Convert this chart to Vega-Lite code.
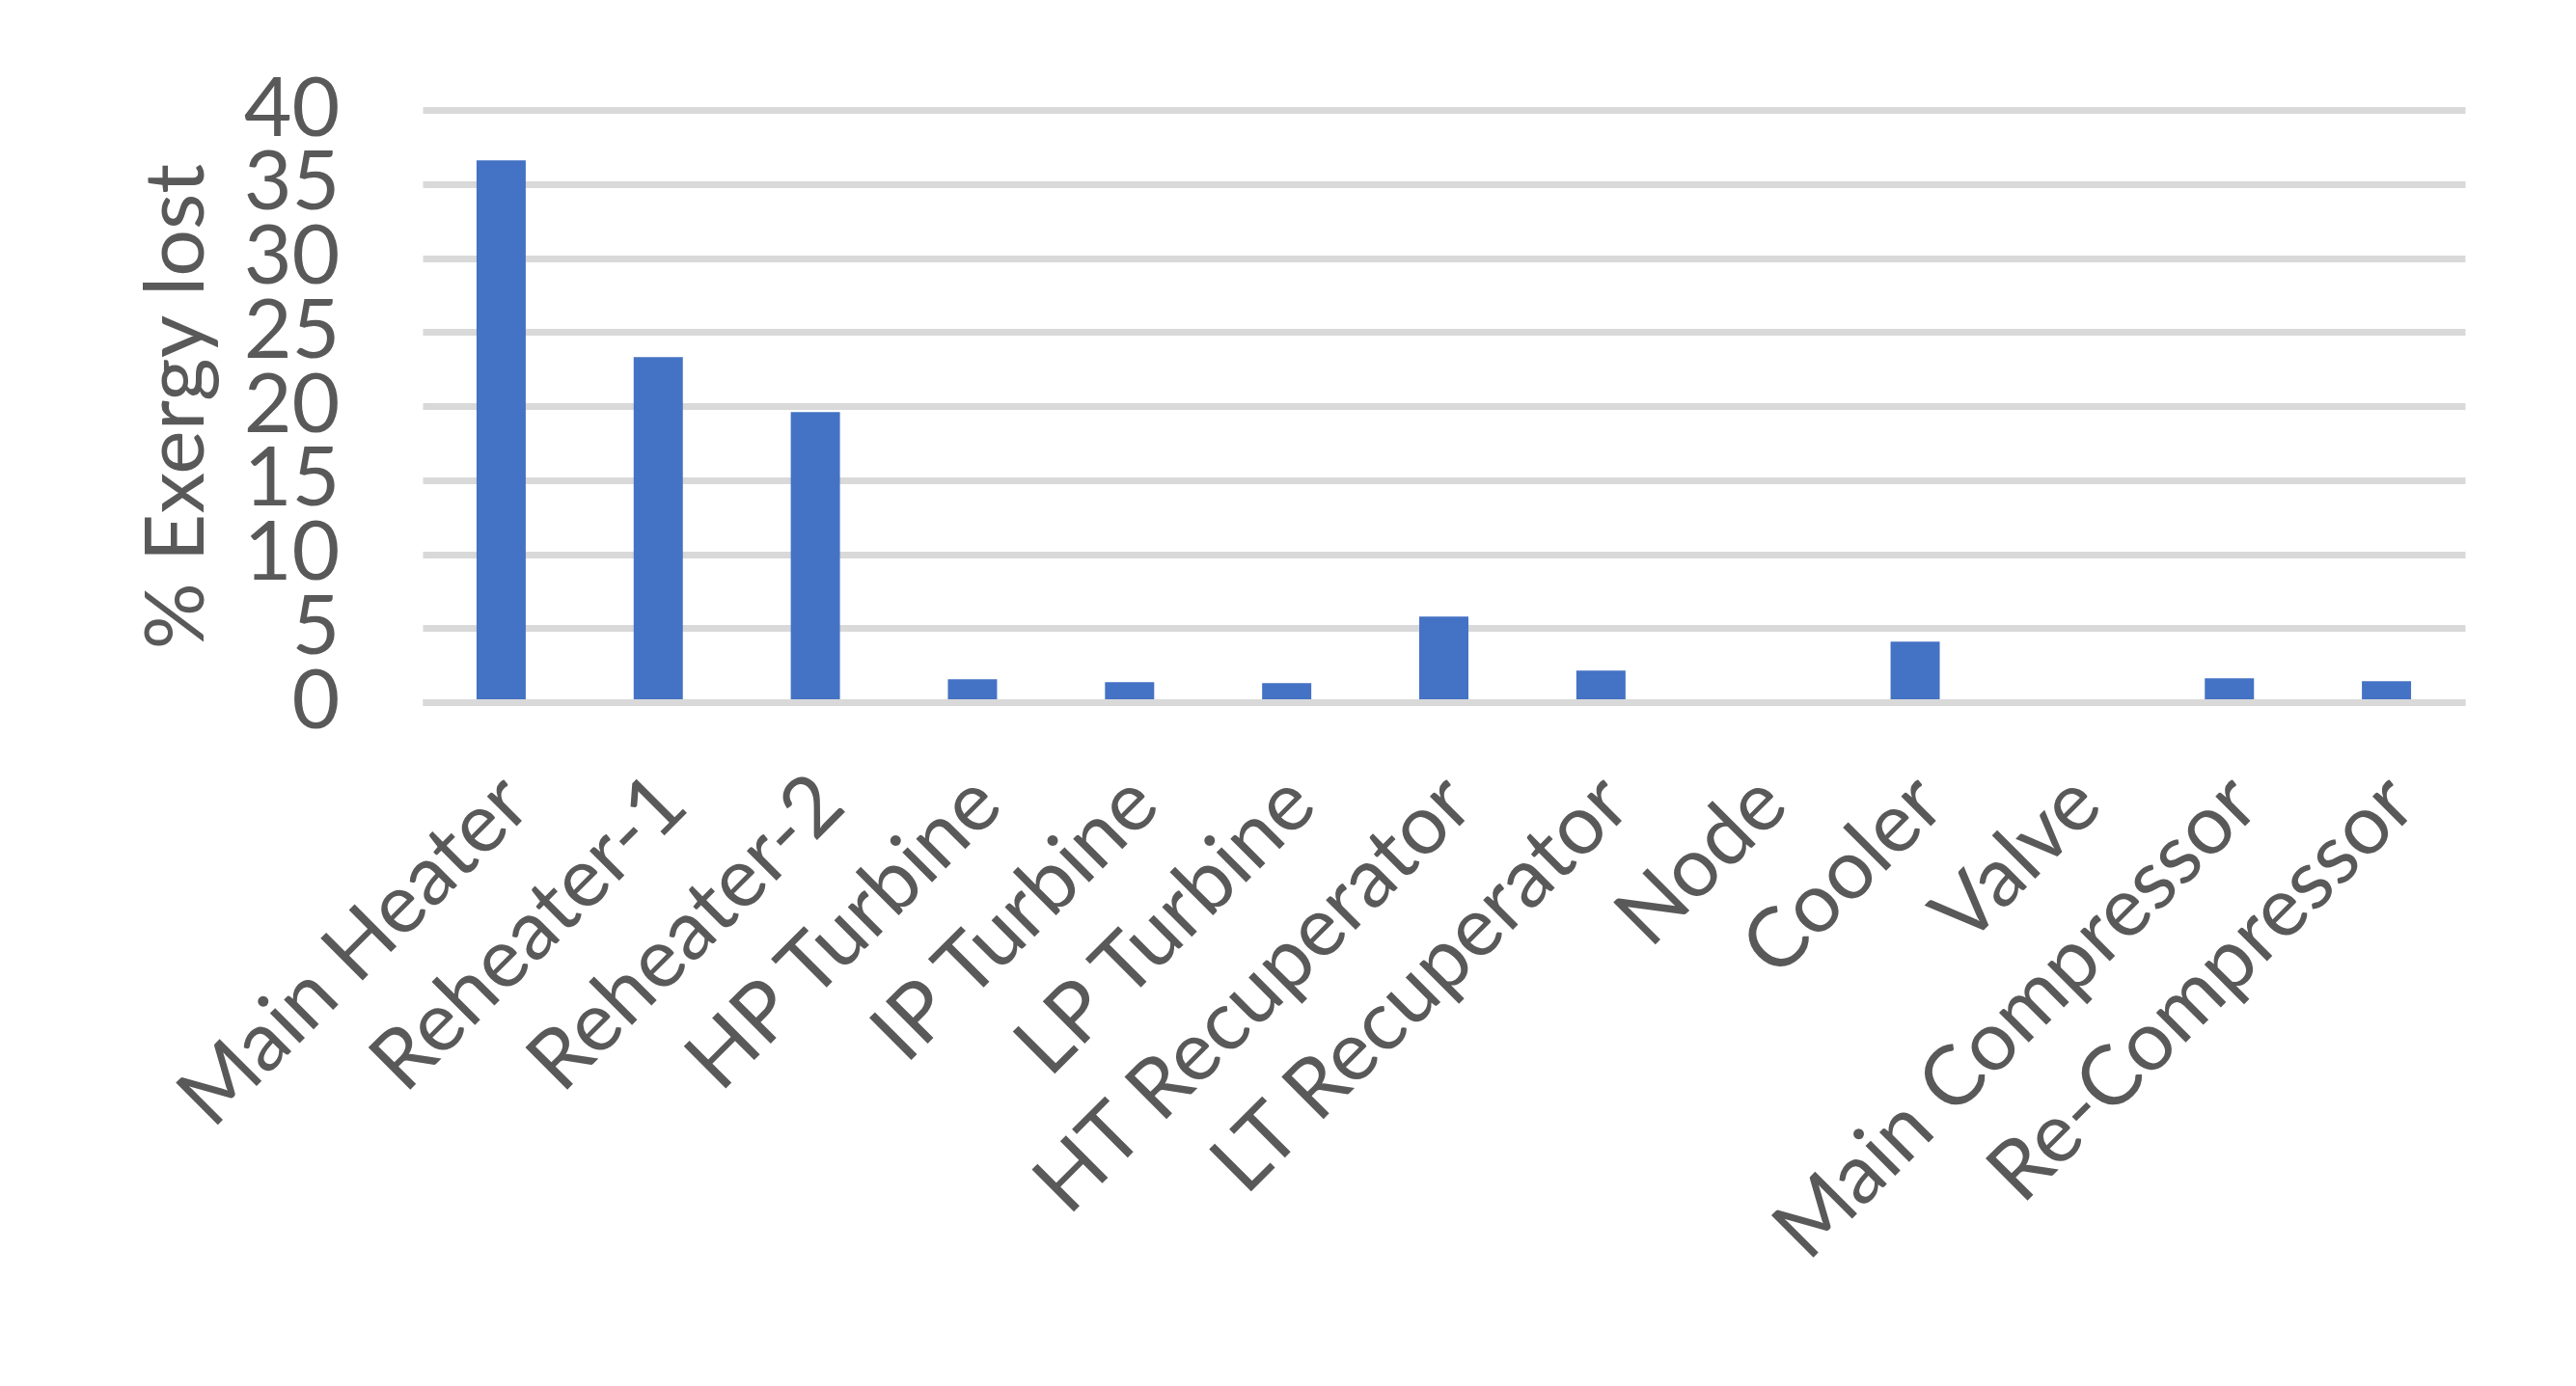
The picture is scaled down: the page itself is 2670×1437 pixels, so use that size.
{
  "$schema": "https://vega.github.io/schema/vega-lite/v6.json",
  "width": 2117,
  "height": 614,
  "autosize": "none",
  "padding": {"left": 438, "top": 114, "right": 115, "bottom": 709},
  "background": "white",
  "config": {
    "view": {"stroke": null},
    "font": "Lato"
  },
  "data": {
    "values": [
      {"component": "Main Heater", "loss": 36.6},
      {"component": "Reheater-1", "loss": 23.3},
      {"component": "Reheater-2", "loss": 19.6},
      {"component": "HP Turbine", "loss": 1.54},
      {"component": "IP Turbine", "loss": 1.35},
      {"component": "LP Turbine", "loss": 1.28},
      {"component": "HT Recuperator", "loss": 5.78},
      {"component": "LT Recuperator", "loss": 2.13},
      {"component": "Node", "loss": 0},
      {"component": "Cooler", "loss": 4.09},
      {"component": "Valve", "loss": 0},
      {"component": "Main Compressor", "loss": 1.61},
      {"component": "Re-Compressor", "loss": 1.41}
    ]
  },
  "mark": {"type": "bar", "color": "#4472C4", "width": {"band": 0.313}},
  "encoding": {
    "x": {
      "field": "component",
      "type": "nominal",
      "sort": null,
      "scale": {"paddingInner": 0, "paddingOuter": 0},
      "axis": {
        "title": null,
        "labelAngle": -45,
        "labelFontSize": 86,
        "labelColor": "#595959",
        "labelPadding": 62,
        "labelOffset": -14,
        "ticks": false,
        "grid": false,
        "domain": true,
        "domainColor": "#d9d9d9",
        "domainWidth": 7,
        "zindex": 1,
        "labelOverlap": false,
        "labelLimit": 0
      }
    },
    "y": {
      "field": "loss",
      "type": "quantitative",
      "scale": {"domain": [0, 40], "nice": false},
      "axis": {
        "title": "% Exergy lost",
        "titleFontSize": 86,
        "titleFontWeight": "normal",
        "titleColor": "#595959",
        "titleAngle": -90,
        "titleX": -228,
        "titleY": 307,
        "titleAlign": "center",
        "titleBaseline": "alphabetic",
        "values": [0, 5, 10, 15, 20, 25, 30, 35, 40],
        "labelFontSize": 86,
        "labelColor": "#595959",
        "labelPadding": 86,
        "ticks": false,
        "domain": false,
        "gridColor": "#d9d9d9",
        "gridWidth": 7,
        "labelOverlap": false
      }
    }
  }
}
